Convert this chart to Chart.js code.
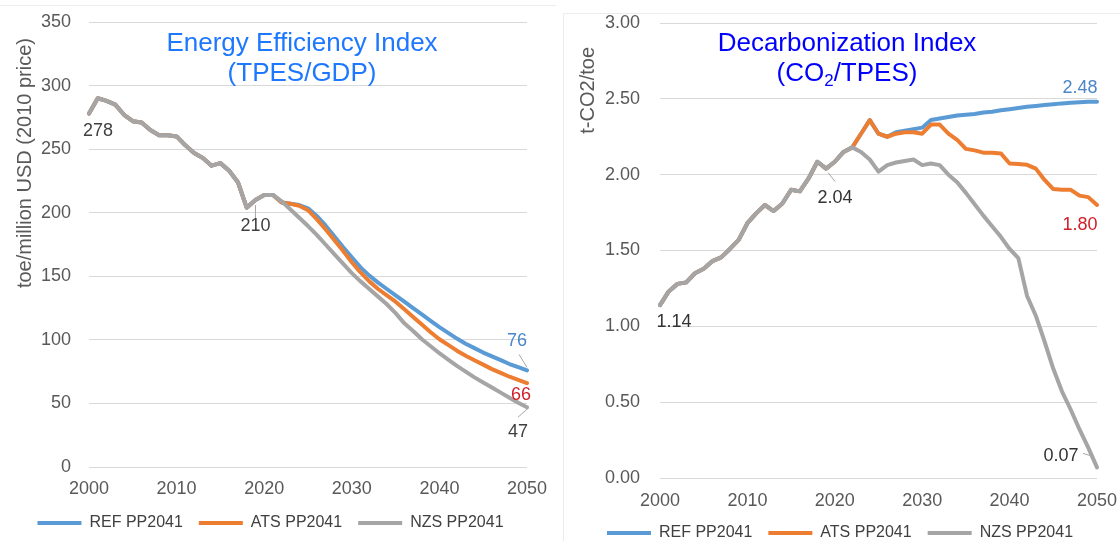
<!DOCTYPE html>
<html>
<head>
<meta charset="utf-8">
<script src="https://cdn.jsdelivr.net/npm/chart.js@4.4.1/dist/chart.umd.min.js"></script>
<style>
html, body { margin: 0; padding: 0; background: #fff; overflow: hidden; }
body { width: 1120px; height: 541px; position: relative; font-family: "Liberation Sans", Arial, sans-serif; }
.panel { position: absolute; height: 541px; }
#p1 { left: 0; top: 0; width: 555px; }
#p2 { left: 563px; top: 10px; width: 557px; }
.title { position: absolute; top: 27px; font-size: 26px; line-height: 30px; text-align: center; white-space: nowrap; transform: translateX(-50%); z-index: 2; }
.title sub { font-size: 65%; line-height: 0; vertical-align: -0.3em; }
.rule { position: absolute; background: #ececec; }
</style>
</head>
<body>
<div class="rule" style="left:0;top:5px;width:556px;height:1px"></div>
<div class="rule" style="left:563px;top:13px;width:557px;height:1px"></div>
<div class="rule" style="left:563px;top:13px;width:1px;height:528px"></div>
<div class="panel" id="p1"><canvas id="eff"></canvas></div>
<div class="panel" id="p2"><canvas id="dec"></canvas></div>
<div class="title" style="left:302px;color:#1e78ff">Energy Efficiency Index<br>(TPES/GDP)</div>
<div class="title" style="left:847px;color:#0000ff">Decarbonization Index<br>(CO<sub>2</sub>/TPES)</div>
<script>
const years = Array.from({length: 51}, (_, i) => 2000 + i);

// energy efficiency, toe per million USD (2010 price)
// shared history 2000-2021, then scenarios 2022-2050
const effHistory = [278, 290, 288, 285, 277, 272, 271, 265, 261, 261, 260, 253, 247, 243, 237, 239, 233, 224, 204, 210, 214, 214];
const effRef = [208, 207, 206, 203.5, 197.5, 190, 181.5, 173, 165, 157, 150.5, 145, 140, 135, 130, 125, 120, 115, 110, 105.5, 101, 97, 93.5, 90, 87, 84, 81, 78.5, 76];
const effAts = [208, 207, 205.5, 202, 195, 187, 178.5, 170, 161, 153, 146, 140, 135, 130, 124, 118, 112, 106, 100.5, 96, 91.5, 87.5, 84, 80.5, 77, 74, 71, 68.5, 66];
const effNzs = [209, 202.5, 196, 189.5, 182.5, 175, 167.5, 160, 152.5, 146, 140, 134, 128, 121, 113, 107, 100.5, 95, 89.5, 84.5, 79.5, 75, 70.5, 66.5, 62.5, 58.5, 54.5, 50.5, 47];

// decarbonization, t-CO2 per toe
const decHistory = [1.14, 1.23, 1.28, 1.29, 1.35, 1.38, 1.43, 1.455, 1.51, 1.57, 1.68, 1.745, 1.80, 1.76, 1.81, 1.90, 1.89, 1.975, 2.085, 2.04, 2.085, 2.15];
const decRef = [2.18, 2.27, 2.36, 2.27, 2.25, 2.28, 2.29, 2.30, 2.31, 2.36, 2.37, 2.38, 2.39, 2.395, 2.40, 2.41, 2.415, 2.425, 2.432, 2.44, 2.448, 2.453, 2.459, 2.464, 2.47, 2.474, 2.478, 2.48, 2.48];
const decAts = [2.18, 2.27, 2.36, 2.27, 2.25, 2.27, 2.28, 2.28, 2.27, 2.33, 2.33, 2.27, 2.23, 2.17, 2.16, 2.145, 2.145, 2.14, 2.074, 2.07, 2.065, 2.04, 1.965, 1.905, 1.90, 1.90, 1.862, 1.852, 1.80];
const decNzs = [2.18, 2.15, 2.10, 2.02, 2.063, 2.08, 2.09, 2.10, 2.063, 2.074, 2.063, 2.00, 1.95, 1.88, 1.805, 1.73, 1.66, 1.59, 1.51, 1.45, 1.20, 1.07, 0.90, 0.72, 0.57, 0.45, 0.32, 0.20, 0.07];

const seriesNames = ['REF PP2041', 'ATS PP2041', 'NZS PP2041'];
const seriesColors = ['#5B9BD5', '#ED7D31', '#A5A5A5'];

const FONT = '"Liberation Sans", Arial, sans-serif';
Chart.defaults.font.family = FONT;
Chart.defaults.font.size = 18;
Chart.defaults.color = '#595959';

// value labels next to points + rotated y title
const pointLabels = {
    id: 'pointLabels',
    afterDatasetsDraw(chart, args, opts) {
        const ctx = chart.ctx;
        ctx.save();
        ctx.font = '18px ' + FONT;
        ctx.textAlign = 'center';
        ctx.textBaseline = 'middle';
        opts.items.forEach(it => {
            const pt = chart.getDatasetMeta(it.ds).data[it.i];
            const v = chart.data.datasets[it.ds].data[it.i];
            if (it.leader) {
                ctx.strokeStyle = '#a6a6a6';
                ctx.lineWidth = 1;
                ctx.beginPath();
                ctx.moveTo(pt.x + it.leader[0], pt.y + it.leader[1]);
                ctx.lineTo(pt.x + it.leader[2], pt.y + it.leader[3]);
                ctx.stroke();
            }
            ctx.fillStyle = it.color;
            ctx.fillText(opts.format(v), pt.x + it.dx, pt.y + it.dy);
        });
        const t = opts.yTitle;
        ctx.translate(t.x, t.top);
        ctx.rotate(-Math.PI / 2);
        ctx.textAlign = 'right';
        ctx.font = '20px ' + FONT;
        ctx.fillStyle = '#595959';
        ctx.fillText(t.text, 0, 0);
        ctx.restore();
    }
};

function makeChart(id, history, scen, cfg) {
    return new Chart(document.getElementById(id), {
        type: 'line',
        data: {
            labels: years,
            datasets: scen.map((s, k) => ({
                label: seriesNames[k],
                data: history.concat(s),
                borderColor: seriesColors[k],
                backgroundColor: seriesColors[k],
                borderWidth: 4,
                borderJoinStyle: 'round',
                borderCapStyle: 'round',
                pointRadius: 0,
                tension: 0,
                order: 3 - k
            }))
        },
        options: {
            responsive: true,
            maintainAspectRatio: false,
            animation: false,
            layout: { padding: cfg.padding },
            scales: {
                x: {
                    // hidden tick marks set the label offset without widening the side padding
                    grid: { display: false, drawTicks: true, tickLength: cfg.xGap },
                    border: { display: false },
                    ticks: {
                        autoSkip: false,
                        maxRotation: 0,
                        padding: 0,
                        callback: function (val, idx) {
                            return years[idx] % 10 === 0 ? String(years[idx]) : '';
                        }
                    },
                    afterFit: s => { s.height = cfg.xHeight; }
                },
                y: {
                    min: cfg.min,
                    max: cfg.max,
                    grid: { color: '#d9d9d9', drawTicks: true, tickLength: cfg.tickGap, tickColor: 'rgba(0,0,0,0)' },
                    border: { display: false },
                    ticks: { stepSize: cfg.step, padding: 0, callback: cfg.tick },
                    afterFit: s => { s.width = cfg.yWidth; }
                }
            },
            plugins: {
                legend: {
                    position: 'bottom',
                    labels: {
                        font: { size: 16 },
                        color: '#404040',
                        boxWidth: 44,
                        boxHeight: 4,
                        padding: 16,
                        sort: (a, b) => a.datasetIndex - b.datasetIndex,
                        generateLabels: chart => Chart.defaults.plugins.legend.labels.generateLabels(chart)
                            .map(l => Object.assign(l, { lineWidth: 0 }))
                    }
                },
                tooltip: { enabled: false },
                pointLabels: {
                    items: cfg.items,
                    format: cfg.fmt,
                    yTitle: cfg.yTitle
                }
            }
        },
        plugins: [pointLabels]
    });
}

makeChart('eff', effHistory, [effRef, effAts, effNzs], {
    padding: { left: 14, right: 28, top: 22, bottom: 0 },
    yWidth: 75, xHeight: 32, xGap: 11, tickGap: 18,
    min: 0, max: 350, step: 50,
    tick: v => v,
    fmt: v => String(Math.round(v)),
    yTitle: { text: 'toe/million USD (2010 price)', x: 25, top: 38 },
    items: [
        { ds: 2, i: 0, dx: 9, dy: 17, color: '#404040' },
        { ds: 2, i: 19, dx: 0, dy: 26, color: '#404040', leader: [0, 5, 0, 19] },
        { ds: 0, i: 50, dx: -10, dy: -29, color: '#4a86c8', leader: [-8, -16, 0, -3] },
        { ds: 1, i: 50, dx: -6, dy: 12, color: '#d0202a' },
        { ds: 2, i: 50, dx: -9, dy: 25, color: '#404040', leader: [-9, 10, 1, 1] }
    ]
});

makeChart('dec', decHistory, [decRef, decAts, decNzs], {
    padding: { left: 20, right: 23, top: 13, bottom: 0 },
    yWidth: 77, xHeight: 31, xGap: 12, tickGap: 20,
    min: 0, max: 3, step: 0.5,
    tick: v => v.toFixed(2),
    fmt: v => v.toFixed(2),
    yTitle: { text: 't-CO2/toe', x: 25, top: 37 },
    items: [
        { ds: 2, i: 0, dx: 14, dy: 17, color: '#333333' },
        { ds: 2, i: 19, dx: 9, dy: 29, color: '#333333', leader: [2, 4, 9, 13] },
        { ds: 0, i: 50, dx: -17, dy: -14, color: '#4a86c8' },
        { ds: 1, i: 50, dx: -17, dy: 20, color: '#d0202a' },
        { ds: 2, i: 50, dx: -36, dy: -11, color: '#333333', leader: [-14, -14, -4, -11] }
    ]
});
</script>
</body>
</html>
